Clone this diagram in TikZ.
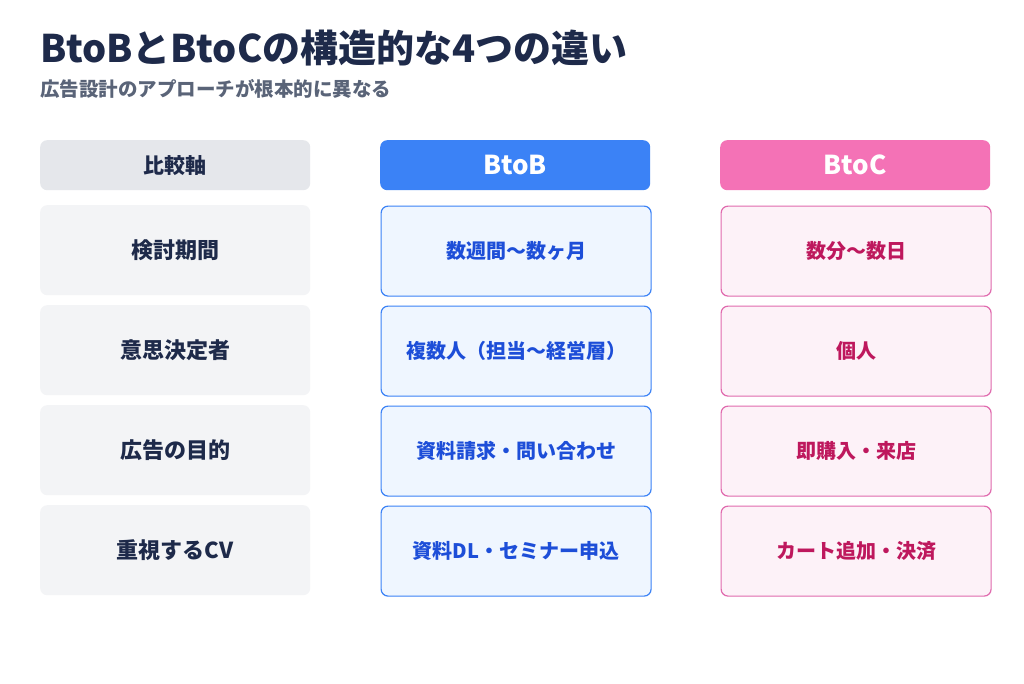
\documentclass[tikz,border=0pt]{standalone}
\usepackage{fontspec}
\setmainfont{Noto Sans CJK JP}
\definecolor{navy}{HTML}{1E2A4A}
\definecolor{subg}{HTML}{5A6478}
\definecolor{hgray}{HTML}{E5E7EB}
\definecolor{rgray}{HTML}{F3F4F6}
\definecolor{bblue}{HTML}{3B82F6}
\definecolor{bfill}{HTML}{EFF6FF}
\definecolor{btext}{HTML}{1D4ED8}
\definecolor{pink}{HTML}{F472B6}
\definecolor{pborder}{HTML}{E06AAE}
\definecolor{pfill}{HTML}{FDF2F8}
\definecolor{ptext}{HTML}{BE185D}
\begin{document}
\begin{tikzpicture}[x=1pt,y=-1pt,
 cell/.style={rounded corners=7pt,minimum width=270pt,anchor=north west,font=\bfseries\fontsize{20}{24}\selectfont,inner sep=0pt},
 hdr/.style={cell,minimum height=50pt},
 row/.style={cell,minimum height=90pt},
 axh/.style={hdr,fill=hgray,text=navy,font=\bfseries\fontsize{21}{24}\selectfont},
 bh/.style={hdr,fill=bblue,text=white,font=\bfseries\fontsize{26}{30}\selectfont},
 ch/.style={hdr,fill=pink,text=white,font=\bfseries\fontsize{26}{30}\selectfont},
 axr/.style={row,fill=rgray,text=navy,font=\bfseries\fontsize{22}{26}\selectfont},
 br/.style={row,fill=bfill,draw=bblue,line width=1.2pt,text=btext},
 cr/.style={row,fill=pfill,draw=pborder,line width=1.2pt,text=ptext}]
\fill[white] (0,0) rectangle (1024,683);
\useasboundingbox (0,0) rectangle (1024,683);
\node[anchor=base west,inner sep=0pt,text=navy,font=\bfseries\fontsize{38}{42}\selectfont] (title) at (40,62) {BtoBとBtoCの構造的な4つの違い};
\node[anchor=base west,inner sep=0pt,text=subg,font=\bfseries\fontsize{19.5}{22}\selectfont] (sub) at (40,96) {広告設計のアプローチが根本的に異なる};
\node[axh] (h1) at (40,140) {比較軸};
\node[bh] (h2) at (380,140) {BtoB};
\node[ch] (h3) at (720,140) {BtoC};
\foreach \y/\a/\b/\c [count=\i] in {205/検討期間/数週間〜数ヶ月/数分〜数日,305/意思決定者/複数人（担当〜経営層）/個人,405/広告の目的/資料請求・問い合わせ/即購入・来店,505/重視するCV/資料DL・セミナー申込/カート追加・決済}{
 \node[axr] (a\i) at (40,\y) {\a};
 \node[br] (b\i) at (380.5,\y.5) {\b};
 \node[cr] (c\i) at (720.5,\y.5) {\c};
}
\end{tikzpicture}
\end{document}
